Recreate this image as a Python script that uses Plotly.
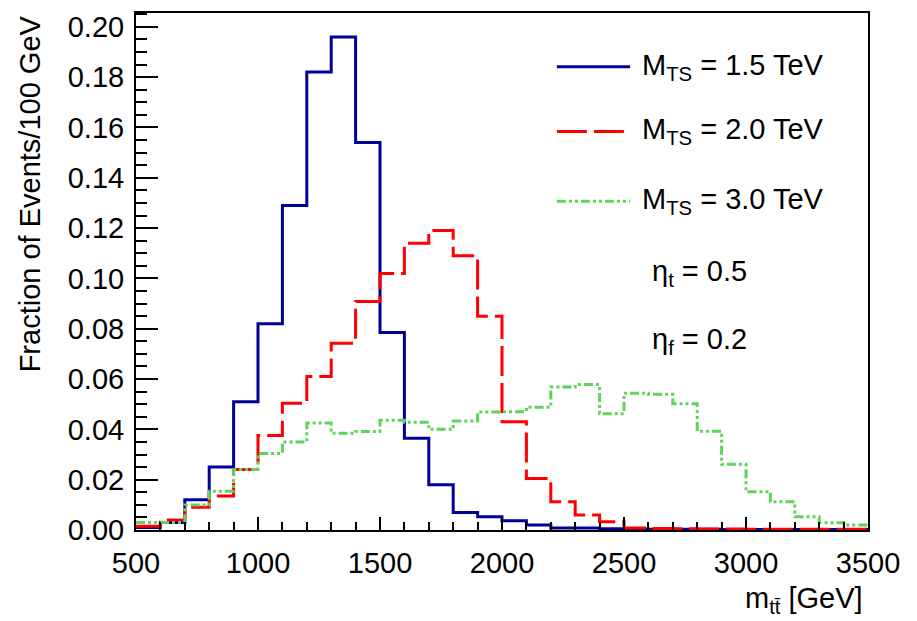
import plotly.graph_objects as go

# ---- data ----
bin_edges = list(range(500, 3600, 100))  # 31 edges, 30 bins
m15_values = [0.001, 0.003, 0.012, 0.025, 0.051, 0.082, 0.129, 0.182, 0.196, 0.154,
              0.0785, 0.0365, 0.018, 0.007, 0.0053, 0.0037, 0.002, 0.0008, 0.0008, 0.0005,
              0.0004, 0.0003, 0.0003, 0.0003, 0.0002, 0.0002, 0.0002, 0.0002, 0.0002, 0.0002]
m20_values = [0.0015, 0.004, 0.009, 0.0135, 0.024, 0.0376, 0.0504, 0.061, 0.0742, 0.0908,
              0.102, 0.114, 0.119, 0.109, 0.085, 0.043, 0.0205, 0.0112, 0.006, 0.0033,
              0.0008, 0.0006, 0.0005, 0.0004, 0.0004, 0.0003, 0.0003, 0.0003, 0.0003, 0.0003]
m30_values = [0.003, 0.003, 0.0099, 0.0154, 0.024, 0.0304, 0.035, 0.0425, 0.0385, 0.0392,
              0.0436, 0.0428, 0.040, 0.0433, 0.0469, 0.047, 0.0488, 0.0568, 0.0578, 0.0462,
              0.0544, 0.054, 0.0502, 0.0393, 0.0261, 0.0152, 0.0112, 0.0053, 0.0029, 0.002]

series_names = ["M<sub>TS</sub> = 1.5 TeV", "M<sub>TS</sub> = 2.0 TeV", "M<sub>TS</sub> = 3.0 TeV"]
series_colors = ["#000099", "#ff0000", "#5fd45a"]
series_dashes = ["solid", "30px,7px", "9px,3px,3px,3px,3px,3px"]
y_ticks = [0.00, 0.02, 0.04, 0.06, 0.08, 0.10, 0.12, 0.14, 0.16, 0.18, 0.20]
y_ticklabels = ["0.00", "0.02", "0.04", "0.06", "0.08", "0.10", "0.12", "0.14", "0.16", "0.18", "0.20"]
x_ticks = [500, 1000, 1500, 2000, 2500, 3000, 3500]

FONT = "Liberation Sans, Arial, sans-serif"

fig = go.Figure()
for vals, name, col, dash in zip([m15_values, m20_values, m30_values], series_names,
                                 series_colors, series_dashes):
    fig.add_trace(go.Scatter(
        x=bin_edges, y=vals + [vals[-1]], mode="lines", line_shape="hv",
        line=dict(color=col, width=3, dash=dash), name=name, showlegend=False,
    ))

# legend (manual, ROOT style)
leg_y = [0.896, 0.771, 0.636]
for yy, name, col, dash in zip(leg_y, series_names, series_colors, series_dashes):
    fig.add_shape(type="line", xref="paper", yref="paper", x0=0.575, x1=0.675, y0=yy, y1=yy,
                  line=dict(color=col, width=3, dash=dash))
    fig.add_annotation(xref="paper", yref="paper", x=0.689, y=yy, xanchor="left", yanchor="middle",
                       text=name, showarrow=False, font=dict(family=FONT, size=29, color="black"))

fig.add_annotation(xref="paper", yref="paper", x=0.770, y=0.497, xanchor="center", yanchor="middle",
                   text="η<sub>t</sub> = 0.5", showarrow=False, font=dict(family=FONT, size=29, color="black"))
fig.add_annotation(xref="paper", yref="paper", x=0.770, y=0.366, xanchor="center", yanchor="middle",
                   text="η<sub>f</sub> = 0.2", showarrow=False, font=dict(family=FONT, size=29, color="black"))

# axis titles
fig.add_annotation(xref="paper", yref="paper", x=-0.145, y=1.0, xanchor="center", yanchor="top",
                   textangle=-90, text="Fraction of Events/100 GeV", showarrow=False,
                   font=dict(family=FONT, size=29, color="black"))
fig.add_annotation(xref="paper", yref="paper", x=0.996, y=-0.135, xanchor="right", yanchor="middle",
                   text="m<sub>tt\u0304</sub> [GeV]", showarrow=False,
                   font=dict(family=FONT, size=29, color="black"))

fig.update_layout(
    width=917, height=621,
    margin=dict(l=136, r=49, t=11, b=91),
    paper_bgcolor="white", plot_bgcolor="white",
    font=dict(family=FONT, size=29, color="black"),
    xaxis=dict(range=[500, 3500], tickvals=x_ticks, ticks="inside", ticklen=13, tickwidth=2,
               tickcolor="black", showline=True, linecolor="black", linewidth=2, mirror=True,
               showgrid=False, zeroline=False, ticklabelstandoff=6,
               minor=dict(dtick=100, ticks="inside", ticklen=8, tickwidth=2, tickcolor="black", showgrid=False),
               tickfont=dict(family=FONT, size=29, color="black")),
    yaxis=dict(range=[0, 0.2055], tickvals=y_ticks, ticktext=y_ticklabels, ticks="inside", ticklen=22,
               tickwidth=2, tickcolor="black", showline=True, linecolor="black", linewidth=2, mirror=True,
               showgrid=False, zeroline=False, ticklabelstandoff=4,
               minor=dict(dtick=0.005, tick0=0, ticks="inside", ticklen=11, tickwidth=2, tickcolor="black", showgrid=False),
               tickfont=dict(family=FONT, size=29, color="black")),
)

fig.write_html("out.html")
